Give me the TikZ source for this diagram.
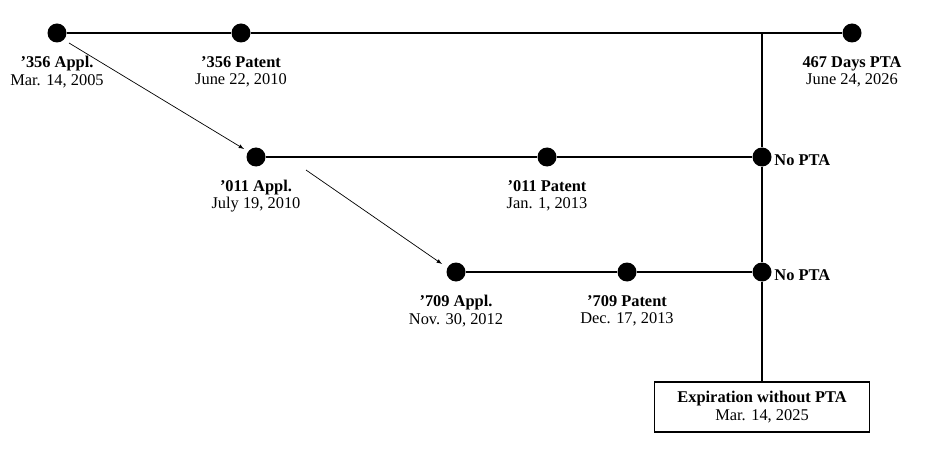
\documentclass[tikz,border=0pt]{standalone}
\usepackage{fontspec}
\setmainfont{Liberation Serif}
\usetikzlibrary{calc}
\begin{document}
\begin{tikzpicture}[x=0.03cm,y=-0.03cm,
	dot/.style={circle,fill=black,inner sep=0pt,minimum size=0.57cm},
	lbl/.style={align=center,font=\fontsize{14}{15}\selectfont,inner sep=1pt},
	line/.style={line width=1.6pt}]
	\useasboundingbox (0,0) rectangle (936,456);
	% Define the desired points
	\node[dot] (A1) at (57,33) {};
	\node[dot] (P1) at (241,33) {};
	\node[dot] (T1) at (852,33) {};
	\node[dot] (A2) at (256,157) {};
	\node[dot] (P2) at (547,157) {};
	\node[dot] (T2) at (762,157) {};
	\node[dot] (A3) at (456,272) {};
	\node[dot] (P3) at (627,272) {};
	\node[dot] (T3) at (762,272) {};
	\coordinate (J) at (762,33);
	\node[draw,line width=1.6pt,lbl,minimum width=6.45cm,minimum height=1.5cm] (E) at (762,407)
		{\textbf{Expiration without PTA}\\Mar. 14, 2025};
	% Draw the lines
	\draw[line] (A1) -- (P1) -- (T1);
	\draw[line] (A2) -- (P2) -- (T2);
	\draw[line] (A3) -- (P3) -- (T3);
	\draw[line] (J) -- (T2) -- (T3) -- (E);
	% Add arrows
	\draw[-latex,semithick] ($(A1)+(12,10)$) -- ($(A2)+(-12,-8)$);
	\draw[-latex,semithick] ($(A2)+(50,13)$) -- ($(A3)+(-14,-8)$);
	% Labels
	\node[lbl] at (57,72) {\textbf{’356 Appl.}\\Mar. 14, 2005};
	\node[lbl] at (241,72) {\textbf{’356 Patent}\\June 22, 2010};
	\node[lbl] at (852,72) {\textbf{467 Days PTA}\\June 24, 2026};
	\node[lbl] at (256,196) {\textbf{’011 Appl.}\\July 19, 2010};
	\node[lbl] at (547,196) {\textbf{’011 Patent}\\Jan. 1, 2013};
	\node[lbl] at (456,311) {\textbf{’709 Appl.}\\Nov. 30, 2012};
	\node[lbl] at (627,311) {\textbf{’709 Patent}\\Dec. 17, 2013};
	\node[lbl,anchor=west] at (773,160) {\textbf{No PTA}};
	\node[lbl,anchor=west] at (773,275) {\textbf{No PTA}};
\end{tikzpicture}
\end{document}
